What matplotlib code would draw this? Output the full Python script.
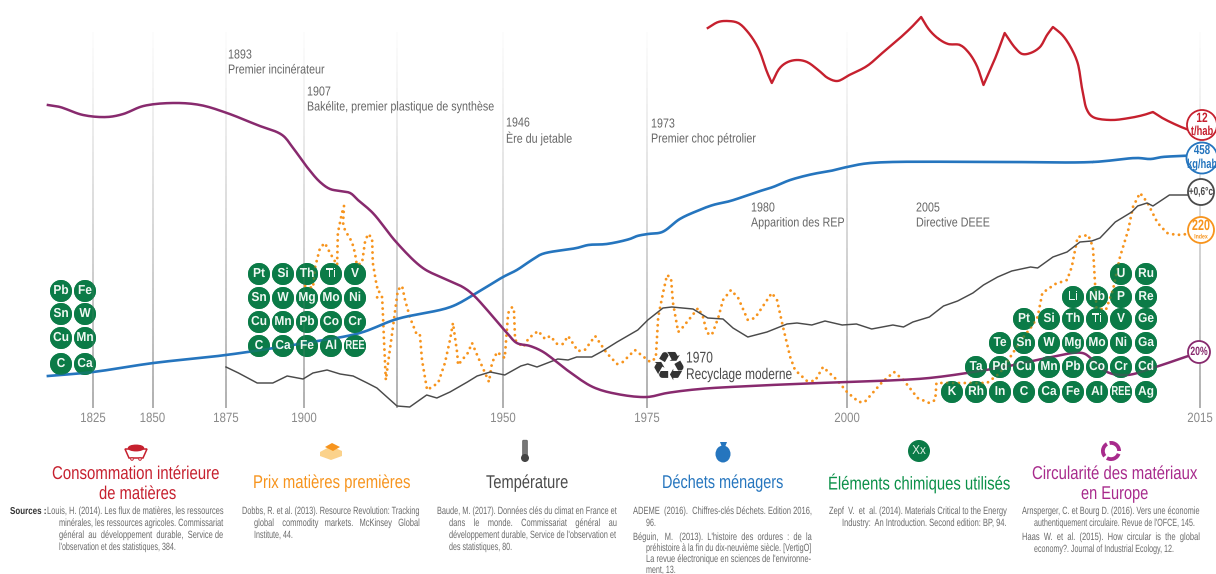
import numpy as np
import matplotlib
matplotlib.use("Agg")
import matplotlib.pyplot as plt
from matplotlib.collections import LineCollection
from matplotlib.patches import Circle, Polygon, Ellipse, Wedge, FancyBboxPatch
from matplotlib.patheffects import AbstractPathEffect
from matplotlib.text import Text
from matplotlib.transforms import Affine2D, Bbox

plt.rcParams['font.family'] = ['Liberation Sans', 'DejaVu Sans']

# ---- data (height in chart units above the reference level) ----
tick_years = [1825, 1850, 1875, 1900, 1925, 1950, 1975, 2000, 2015]
tick_labels = ['1825', '1850', '1875', '1900', '', '1950', '1975', '2000', '2015']

conso_years = [1982.6, 1983.9, 1985.1, 1986.4, 1987.6, 1988.9, 1990, 1990.6, 1991.6, 1992.6, 1993.8, 1995, 1996.4,
               1997.6, 1998.8, 2000.1, 2000.85, 2001.5, 2002.25, 2002.75, 2003.15, 2003.5, 2003.9, 2004.3, 2004.8,
               2005.15, 2005.5, 2005.8, 2006.3, 2006.7, 2007.15, 2007.45, 2007.8, 2008.2, 2008.5, 2008.75, 2009.15,
               2009.5, 2009.8, 2010, 2010.2, 2010.45, 2011.2, 2012, 2012.6, 2013, 2013.4, 2014.2, 2015]
conso_vals = [472, 478, 479, 477, 468, 452, 428, 417, 432, 438, 440, 438, 430,
              422, 419, 425, 434, 447, 462, 473, 483, 470, 461, 456, 455,
              448, 435, 415, 442, 467, 452, 446, 447, 453, 465, 473, 465,
              453, 437, 410, 390, 383, 380, 382, 385, 388, 382, 373, 366]
conso_corners = [1990.6, 2003.15, 2005.8, 2006.7, 2008.75, 2013]

dechets_years = [1805.9, 1825, 1850.3, 1875, 1900.3, 1915, 1925, 1937.6, 1943, 1950, 1952.4, 1955, 1956.8, 1962.8,
                 1964.8, 1968, 1972, 1973.3, 1975.1, 1976.9, 1979.1, 1981.25, 1983.25, 1985.4, 1988.75, 1990.75,
                 1992.9, 1995.75, 1997.9, 2000, 2001, 2006.5, 2010.45, 2012.3, 2012.9, 2013.4, 2014.2, 2015]
dechets_vals = [124, 128, 137, 145, 157, 167, 181, 193, 205, 223, 230, 240, 246, 252,
                255, 256, 261, 264, 266, 268, 281, 289, 295, 299, 308, 313,
                320, 326, 329, 333, 337, 338, 338, 342, 341, 343, 344, 345]

temp_years = [1875, 1879, 1885, 1890, 1894.6, 1899.7, 1902.4, 1906.2, 1909.7, 1913.2, 1917, 1919.6, 1922.3, 1925,
              1928, 1932, 1934.4, 1937.5, 1941.6, 1943.9, 1947, 1950.3, 1953.1, 1954.3, 1955.9, 1959.5, 1961.3,
              1962.8, 1965.4, 1967.3, 1969.8, 1973.4, 1975.1, 1977, 1978.1, 1980.75, 1982.6, 1984.5, 1985.75,
              1987.6, 1990, 1992.5, 1993.75, 1995.6, 1997.25, 1999.4, 2000.4, 2001.05, 2001.95, 2002.4, 2002.8,
              2003.5, 2004.1, 2004.7, 2005.35, 2005.8, 2006.4, 2007, 2007.8, 2008.1, 2008.75, 2009.35, 2009.9,
              2010.4, 2010.75, 2011.4, 2012.1, 2012.35, 2012.75, 2013, 2013.7, 2014.5, 2015]
temp_vals = [133, 127, 117, 117, 124, 121, 127, 130, 126, 124, 117, 112, 103, 94,
             93, 105, 102, 108, 118, 124, 128, 125, 134, 136, 133, 141, 140,
             143, 143, 149, 158, 170, 180, 192, 193, 191, 182, 181, 172,
             163, 168, 176, 177, 175, 179, 175, 176, 171, 175, 173, 178,
             183, 194, 199, 207, 215, 223, 229, 233, 232, 243, 248, 258,
             259, 262, 278, 288, 294, 297, 294, 305, 305, 305]

prix_years = [1900.3, 1902.4, 1903, 1904.3, 1905.6, 1907, 1908.9, 1909.1, 1910.2, 1910.75, 1910.5, 1911, 1912.9,
              1913.7, 1914.2, 1915.6, 1916.4, 1917.2, 1918.3, 1918.5, 1919.6, 1920.4, 1919.6, 1921, 1921.2, 1921.5,
              1922, 1922.6, 1923.7, 1925.2, 1926.2, 1926.9, 1928.1, 1929.7, 1930.4, 1930.9, 1932.1, 1934.7, 1936.3,
              1937.5, 1938.2, 1939.2, 1939.4, 1941.7, 1942.7, 1944.1, 1946.7, 1947.4, 1948.6, 1950.3, 1950.9, 1951.6,
              1951.9, 1952.1, 1953.5, 1954.5, 1956.1, 1957.3, 1958.2, 1959.4, 1960.4, 1961.3, 1963, 1964.2, 1966,
              1968, 1969.8, 1970.8, 1972.9, 1975.4, 1976.1, 1976.4, 1977, 1977.5, 1978, 1978.25, 1978.9, 1979.5,
              1981.4, 1982, 1982.5, 1983.1, 1983.9, 1984.5, 1985.5, 1986.4, 1987.6, 1988.5, 1990.6, 1991.25, 1992,
              1992.9, 1993.5, 1995, 1996, 1997, 1998.75, 2000, 2000.5, 2000.75, 2001.5, 2002, 2002.4, 2003, 2003.5,
              2003.75, 2003.8, 2004.1, 2005.95, 2006.5, 2007.05, 2007.4, 2007.8, 2008.1, 2008.3, 2008.85, 2009.35,
              2009.55, 2009.8, 2010.25, 2010.45, 2010.55, 2010.6, 2011, 2011.3, 2011.6, 2011.95, 2012.15, 2012.45,
              2012.75, 2013.2, 2013.6, 2014, 2014.5]
prix_vals = [214, 212, 233, 252, 257, 247, 235, 267, 287, 294, 277, 270, 258,
             247, 235, 237, 258, 266, 262, 237, 213, 210, 202, 203, 187, 160,
             120, 137, 167, 210, 214, 200, 182, 165, 165, 140, 110, 117, 137,
             160, 177, 147, 135, 147, 157, 143, 118, 137, 148, 142, 187, 193,
             190, 160, 153, 162, 169, 161, 164, 156, 156, 164, 149, 150, 164,
             147, 136, 138, 150, 138, 142, 183, 207, 225, 222, 197, 168, 173,
             192, 183, 167, 165, 182, 200, 210, 202, 180, 182, 207, 200, 173,
             143, 130, 119, 119, 133, 120, 108, 98, 98, 118, 128, 120, 102, 97,
             100, 117, 117, 117, 127, 147, 160, 172, 183, 207, 216, 220,
             233, 263, 265, 253, 213, 192, 190, 210, 243, 270, 293, 307,
             298, 277, 267, 265, 266]

circ_years = [1805.9, 1811, 1820.8, 1830.9, 1837.7, 1846.2, 1857, 1866.2, 1875.3, 1885, 1893, 1896.5, 1900.8, 1904.3,
              1907, 1909.7, 1912.4, 1914.5, 1918.5, 1925, 1931.1, 1935.8, 1940.5, 1943, 1950.7, 1952.4, 1954.7, 1957,
              1961.1, 1965.6, 1969.8, 1975, 1977.5, 1981.6, 1987.9, 1996.6, 2000, 2002.25, 2003.5, 2005.1, 2007.1,
              2008.5, 2010, 2010.45, 2011.05, 2011.9, 2013, 2014, 2015]
circ_vals = [395, 393, 385, 383, 386, 394, 397, 395, 387, 375, 365, 352, 333, 318,
             311, 309, 307, 300, 287, 257, 232, 222, 213, 205, 167, 157, 154, 148,
             130, 113, 106, 103, 107, 111, 114, 117, 118, 120, 122, 127, 135,
             142, 147, 140, 128, 125, 132, 140, 148]

elements_left = [['Pb', 'Fe'], ['Sn', 'W'], ['Cu', 'Mn'], ['C', 'Ca']]
elements_mid = [['Pt', 'Si', 'Th', 'Ti', 'V'], ['Sn', 'W', 'Mg', 'Mo', 'Ni'],
                ['Cu', 'Mn', 'Pb', 'Co', 'Cr'], ['C', 'Ca', 'Fe', 'Al', 'REE']]
elements_right = [['', '', '', '', '', '', '', 'U', 'Ru'],
                  ['', '', '', '', '', 'Li', 'Nb', 'P', 'Re'],
                  ['', '', '', 'Pt', 'Si', 'Th', 'Ti', 'V', 'Ge'],
                  ['', '', 'Te', 'Sn', 'W', 'Mg', 'Mo', 'Ni', 'Ga'],
                  ['', 'Ta', 'Pd', 'Cu', 'Mn', 'Pb', 'Co', 'Cr', 'Cd'],
                  ['K', 'Rh', 'In', 'C', 'Ca', 'Fe', 'Al', 'REE', 'Ag']]

events = [('1893', 'Premier incinérateur', 228, 55), ('1907', 'Bakélite, premier plastique de synthèse', 307, 92),
          ('1946', 'Ère du jetable', 506, 123), ('1973', 'Premier choc pétrolier', 651, 124),
          ('1980', 'Apparition des REP', 751, 208), ('2005', 'Directive DEEE', 916, 208)]

RED, ORANGE, DARK, BLUE, GREEN, PURPLE_T, PURPLE_L = '#C6202E', '#F7941D', '#4A4A4A', '#2575BE', '#0A9048', '#A82A8C', '#882A6E'
ELEM = '#0B7B47'
TXT = '#666666'

# ---- figure ----
fig = plt.figure(figsize=(12.16, 5.74), dpi=100)
anchor_y = np.array([1785.6, 1825, 1850, 1875, 1900, 1925, 1950, 1975, 2000, 2015, 2015.68])
anchor_p = np.array([0, 93, 152.5, 226, 304, 397, 503, 647, 847, 1200, 1216.0])
to_p = lambda v: np.interp(v, anchor_y, anchor_p)
to_y = lambda v: np.interp(v, anchor_p, anchor_y)

# badge discs sit under the curves, a translucent copy over them lets the curves show through
under = fig.add_axes([0, 0, 1, 1])
under.set_xlim(0, 1216)
under.set_ylim(574, 0)
under.axis('off')

ax = fig.add_axes([0, 0, 1, 1], facecolor='none')
ax.set_xscale('function', functions=(to_p, to_y))
ax.set_xlim(1785.6, 2015.68)
ax.set_ylim(-74, 500)
ax.axis('off')


def smooth_plot(xs, ys, corners=(), **kw):
    """Draw a rounded line through the given points (centripetal Catmull-Rom in screen space)."""
    xs = np.asarray(xs, float)
    ys = np.asarray(ys, float)
    cuts = [0] + [int(np.argmin(abs(xs - c))) for c in corners] + [len(xs) - 1]
    out_x, out_y = [], []
    for a, b in zip(cuts[:-1], cuts[1:]):
        P = np.column_stack([to_p(xs[a:b + 1]), ys[a:b + 1]])
        P = np.vstack([2 * P[0] - P[1], P, 2 * P[-1] - P[-2]])
        t = np.concatenate([[0], np.cumsum(np.linalg.norm(np.diff(P, axis=0), axis=1) ** 0.5)])
        for i in range(1, len(P) - 2):
            u = np.linspace(t[i], t[i + 1], 10)[:, None]
            A1 = ((t[i] - u) * P[i - 1] + (u - t[i - 1]) * P[i]) / (t[i] - t[i - 1])
            A2 = ((t[i + 1] - u) * P[i] + (u - t[i]) * P[i + 1]) / (t[i + 1] - t[i])
            A3 = ((t[i + 2] - u) * P[i + 1] + (u - t[i + 1]) * P[i + 2]) / (t[i + 2] - t[i + 1])
            B1 = ((t[i + 1] - u) * A1 + (u - t[i - 1]) * A2) / (t[i + 1] - t[i - 1])
            B2 = ((t[i + 2] - u) * A2 + (u - t[i]) * A3) / (t[i + 2] - t[i])
            C = ((t[i + 1] - u) * B1 + (u - t[i]) * B2) / (t[i + 1] - t[i])
            out_x.extend(C[:, 0])
            out_y.extend(C[:, 1])
    ax.plot(to_y(np.array(out_x)), out_y, **kw)


# fading vertical guides
for yr in tick_years:
    hs = np.linspace(92, 468, 48)
    segs = [[(yr, a), (yr, b)] for a, b in zip(hs[:-1], hs[1:])]
    t = np.linspace(0, 1, len(segs))
    cols = [(0.55, 0.55, 0.55, 0.85 * (1 - v) ** 1.1 + 0.03) for v in t]
    ax.add_collection(LineCollection(segs, colors=cols, linewidths=1.1, zorder=1))

ax.plot(prix_years, prix_vals, color=ORANGE, lw=2.1, ls=(0, (0.01, 2.0)), dash_capstyle='round', zorder=2)
ax.plot(temp_years, temp_vals, color=DARK, lw=1.05, zorder=3, solid_joinstyle='round')
smooth_plot(dechets_years, dechets_vals, color=BLUE, lw=1.9, zorder=4)
smooth_plot(circ_years, circ_vals, color=PURPLE_L, lw=1.8, zorder=4)
smooth_plot(conso_years, conso_vals, conso_corners, color=RED, lw=1.7, zorder=4)

# ---- overlay for labels, element badges and icons ----
ov = fig.add_axes([0, 0, 1, 1], facecolor='none')
ov.set_xlim(0, 1216)
ov.set_ylim(574, 0)
ov.axis('off')
renderer = fig.canvas.get_renderer()


class SqueezeX(AbstractPathEffect):
    def __init__(self, owner):
        super().__init__()
        self.owner = owner

    def draw_path(self, renderer, gc, tpath, affine, rgbFace=None):
        a = self.owner.anchor_display()
        extra = Affine2D().translate(-a, 0).scale(self.owner.sx, 1).translate(a, 0)
        renderer.draw_path(gc, tpath, affine + extra, rgbFace)


class NarrowText(Text):
    """Ordinary text drawn horizontally condensed (no condensed face is installed)."""
    sx = 1.0

    def anchor_display(self):
        return self.get_transform().transform(self.get_position())[0]

    def get_window_extent(self, renderer=None, dpi=None):
        bb = super().get_window_extent(renderer, dpi)
        if self.sx == 1.0:
            return bb
        a = self.anchor_display()
        return Bbox.from_extents(a + (bb.x0 - a) * self.sx, bb.y0, a + (bb.x1 - a) * self.sx, bb.y1)


def label(x, y, s, px, color, sx=0.8, width=None, ha='left', weight='normal', zorder=8, family=None, spread=None):
    kw = {'family': family} if family else {}
    t = NarrowText(x, y, s, ha=ha, va='center', color=color, fontsize=px / 100 * 72, fontweight=weight,
                   zorder=zorder, **kw)
    ov.add_artist(t)
    if width is not None:
        natural = Text.get_window_extent(t, renderer).width
        if spread is not None:
            # justified line: widen the word gaps before condensing the glyphs
            words = s.split(' ')
            gaps = [1] * (len(words) - 1)
            i = 0
            while gaps and width / natural > spread:
                gaps[i % len(gaps)] += 1
                i += 1
                joined = words[0] + ''.join(' ' * g + w for g, w in zip(gaps, words[1:]))
                t.set_text(joined)
                natural = Text.get_window_extent(t, renderer).width
        sx = width / natural
    t.sx = sx
    t.set_path_effects([SqueezeX(t)])
    return t


for yr, lab in zip(tick_years, tick_labels):
    if lab:
        label(float(to_p(yr)), 418, lab, 13.5, '#8A8A8A', sx=0.85, ha='center')

for a, b, x, y in events:
    label(x, y + 0.5, a, 13, TXT, sx=0.825)
    label(x, y + 15.5, b, 13, TXT, sx=0.825)
label(686, 358, '1970', 15.5, DARK, sx=0.78)
label(686, 374.5, 'Recyclage moderne', 15.5, DARK, sx=0.77)
ov.text(669, 369, '\u267B', ha='center', va='center', color='#333333', fontsize=40 / 100 * 72, family='DejaVu Sans')


def grid(rows, xs, ys):
    for row, y in zip(rows, ys):
        for name, x in zip(row, xs):
            if not name:
                continue
            under.add_patch(Circle((x, y), 11, fc=ELEM, ec='none'))
            ov.add_patch(Circle((x, y), 11, fc=ELEM, ec='none', alpha=0.72, zorder=5))
            label(x, y, name, 13, '#F0F8F3', sx=0.92 if name != 'REE' else 0.72, ha='center', weight='bold', zorder=6)


grid(elements_left, [61, 85], [291, 314, 338, 364])
grid(elements_mid, [259, 283, 307, 331, 355], [274, 298, 322, 346])
grid(elements_right, [952, 976, 1000, 1024, 1049, 1073, 1097, 1121, 1146], [274, 297, 319, 343, 367, 392])

# end badges
badges = [(1202, 125, 15, RED, '12', 't/hab', 13.5, 13), (1202, 158, 15.5, BLUE, '458', 'kg/hab', 13, 13)]
for x, y, r, c, a, b, s1, s2 in badges:
    ov.add_patch(Circle((x, y), r, fc='white', ec=c, lw=1.3, zorder=7))
    label(x, y - 7, a, s1, c, sx=0.75, ha='center', weight='bold')
    label(x, y + 7, b, s2, c, sx=0.72, ha='center', weight='bold')
ov.add_patch(Circle((1201, 192), 13, fc='white', ec=DARK, lw=1.3, zorder=7))
label(1201, 192, '+0,6°c', 11.5, DARK, sx=0.72, ha='center', weight='bold')
ov.add_patch(Circle((1201, 230), 13, fc='white', ec=ORANGE, lw=1.3, zorder=7))
label(1201, 226, '220', 15, ORANGE, sx=0.72, ha='center', weight='bold')
label(1201, 237, 'Index', 6.5, ORANGE, sx=0.8, ha='center', weight='bold')
ov.add_patch(Circle((1199, 352), 11, fc='white', ec=PURPLE_L, lw=1.3, zorder=7))
label(1199, 352, '20%', 12, PURPLE_L, sx=0.72, ha='center', weight='bold')

# section titles: text, left edge, right edge, height
titles = [('Consommation intérieure', 52, 219, 474.5, RED), ('de matières', 99, 176, 494.5, RED),
          ('Prix matières premières', 253, 410, 483.5, ORANGE), ('Température', 486, 568, 483.5, DARK),
          ('Déchets ménagers', 662, 783, 483.5, BLUE), ('Éléments chimiques utilisés', 828, 1010, 483.5, GREEN),
          ('Circularité des matériaux', 1032, 1197, 474.5, PURPLE_T), ('en Europe', 1081, 1148, 494.5, PURPLE_T)]
for s, x0, x1, y, c in titles:
    label((x0 + x1) / 2, y, s, 18.5, c, width=x1 - x0, ha='center')

# sources: first-line x, hanging x, right edge, lines (y, text, hanging?, justified?)
label(10, 511, 'Sources :', 10, '#333333', sx=0.8, weight='bold')
sources = [
    (47, 59, 224, [(511, 'Louis, H. (2014). Les flux de matières, les ressources', 0, 1),
                   (523, 'minérales, les ressources agricoles. Commissariat', 1, 1),
                   (535, 'général au développement durable, Service de', 1, 1),
                   (547, "l'observation et des statistiques, 384.", 1, 0)]),
    (242, 254, 420, [(511, 'Dobbs, R. et al. (2013). Resource Revolution: Tracking', 0, 1),
                     (523, 'global commodity markets. McKinsey Global', 1, 1),
                     (535, 'Institute, 44.', 1, 0)]),
    (437, 449, 617, [(511, 'Baude, M. (2017). Données clés du climat en France et', 0, 1),
                     (523, 'dans le monde. Commissariat général au', 1, 1),
                     (535, "développement durable, Service de l'observation et", 1, 1),
                     (547, 'des statistiques, 80.', 1, 0)]),
    (633, 646, 812, [(511, 'ADEME (2016). Chiffres-clés Déchets. Edition 2016,', 0, 1),
                     (523, '96.', 1, 0),
                     (537, "Béguin, M. (2013). L'histoire des ordures : de la", 0, 1),
                     (548, 'préhistoire à la fin du dix-neuvième siècle. [VertigO]', 1, 1),
                     (559, "La revue électronique en sciences de l'environne-", 1, 1),
                     (570, 'ment, 13.', 1, 0)]),
    (829, 842, 1007, [(511, 'Zepf V. et al. (2014). Materials Critical to the Energy', 0, 1),
                      (523, 'Industry: An Introduction. Second edition: BP, 94.', 1, 1)]),
    (1022, 1034, 1200, [(511, 'Arnsperger, C. et Bourg D. (2016). Vers une économie', 0, 1),
                        (523, "authentiquement circulaire. Revue de l'OFCE, 145.", 1, 0),
                        (537, 'Haas W. et al. (2015). How circular is the global', 0, 1),
                        (549, 'economy?. Journal of Industrial Ecology, 12.', 1, 0)]),
]
for x0, x1, xr, lines in sources:
    for y, s, ind, just in lines:
        xs = x1 if ind else x0
        label(xs, y, s, 10.5, '#6A6A6A', sx=0.68, width=(xr - xs) if just else None, spread=0.72)

# icons
ov.add_patch(Polygon([(125, 449), (147, 449), (143, 458), (129, 458)], closed=True, fc='white', ec=RED, lw=1.1, zorder=3))
ov.add_patch(Ellipse((136, 448), 15, 5.5, fc=RED, ec=RED, zorder=4))
for wx in (132, 140):
    ov.add_patch(Circle((wx, 459), 1.3, fc='white', ec=RED, lw=0.7, zorder=4))
ov.add_patch(Polygon([(320, 452), (331, 446), (342, 451), (342, 456), (331, 460), (320, 456)], fc='#FBD28B', ec='none'))
ov.add_patch(Polygon([(325, 447), (332, 443), (340, 447), (333, 451)], fc=ORANGE, ec='none'))
ov.add_patch(FancyBboxPatch((523.5, 441), 3, 16, boxstyle='round,pad=0.8', fc='#777777', ec='#555555', lw=0.5))
ov.add_patch(Circle((525, 458), 4, fc='#444444', ec='none'))
ov.add_patch(Ellipse((723, 454), 15, 17, fc=BLUE, ec='none'))
ov.add_patch(Polygon([(720, 442), (727, 442), (725, 447), (729, 451), (717, 451), (722, 447)], fc=BLUE, ec='none'))
ov.add_patch(Circle((919, 451), 11, fc=ELEM, ec='none'))
label(919, 451, 'Xx', 13, '#DDEFE4', sx=0.9, ha='center')
for start in (20, 140, 260):
    ov.add_patch(Wedge((1111, 451), 10, start, start + 100, width=3.8, fc=PURPLE_T, ec='none'))

fig.savefig('out.png', dpi=100)
